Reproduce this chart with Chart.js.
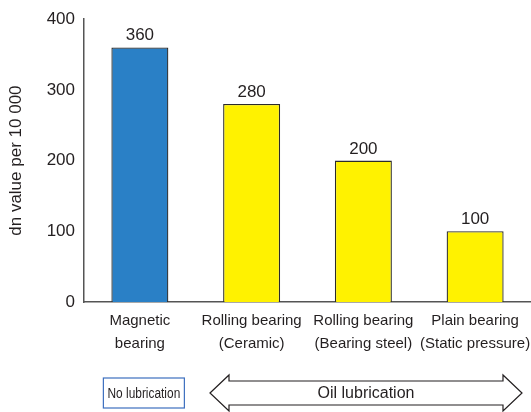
<!DOCTYPE html>
<html>
<head>
<meta charset="utf-8">
<script src="https://cdn.jsdelivr.net/npm/chart.js@4/dist/chart.umd.min.js"></script>
<style>
  html, body { margin: 0; padding: 0; background: #fff; }
  #wrap { width: 531px; height: 412px; position: relative; }
</style>
</head>
<body>
<div id="wrap"><canvas id="c" width="531" height="412"></canvas></div>
<script>
// Bearing types and their dn limits (dn value per 10 000)
const categories = [
  ['Magnetic', 'bearing'],
  ['Rolling bearing', '(Ceramic)'],
  ['Rolling bearing', '(Bearing steel)'],
  ['Plain bearing', '(Static pressure)']
];
const dnValues = [360, 280, 200, 100];
const barColors = ['#2a80c6', '#fff200', '#fff200', '#fff200'];
const yTicks = [0, 100, 200, 300, 400];
const noLubText = 'No lubrication';
const oilLubText = 'Oil lubrication';

const FONT = '"Liberation Sans", Arial, Helvetica, sans-serif';
const TEXT = '#231f20';

// Value labels above each bar
const valueLabels = {
  id: 'valueLabels',
  afterDatasetsDraw(chart) {
    const ctx = chart.ctx;
    const meta = chart.getDatasetMeta(0);
    ctx.save();
    ctx.font = '17px ' + FONT;
    ctx.fillStyle = TEXT;
    ctx.textAlign = 'center';
    ctx.textBaseline = 'alphabetic';
    meta.data.forEach((bar, i) => {
      ctx.fillText(String(chart.data.datasets[0].data[i]), bar.x, bar.y - 7);
    });
    ctx.restore();
  }
};

// Lubrication notes under the category labels
const lubricationNotes = {
  id: 'lubricationNotes',
  afterDraw(chart) {
    const ctx = chart.ctx;
    const x = chart.scales.x;
    const cy = 393;
    ctx.save();

    // boxed "No lubrication" under the first category
    const bx = x.getPixelForValue(0) + 4;
    const bw = 81, bh = 30;
    ctx.strokeStyle = '#3d6fbf';
    ctx.lineWidth = 1.2;
    ctx.strokeRect(bx - bw / 2, cy - bh / 2, bw, bh);
    ctx.fillStyle = TEXT;
    ctx.textAlign = 'center';
    ctx.textBaseline = 'middle';
    ctx.font = '14px "Liberation Sans Narrow", ' + FONT;
    ctx.save();
    ctx.translate(bx, cy);
    ctx.scale(0.85, 1);
    ctx.fillText(noLubText, 0, 1);
    ctx.restore();

    // double-headed arrow spanning the oil-lubricated bearings
    const left = 210, right = 522, head = 19, shaft = 12, wing = 18;
    ctx.beginPath();
    ctx.moveTo(left, cy);
    ctx.lineTo(left + head, cy - wing);
    ctx.lineTo(left + head, cy - shaft);
    ctx.lineTo(right - head, cy - shaft);
    ctx.lineTo(right - head, cy - wing);
    ctx.lineTo(right, cy);
    ctx.lineTo(right - head, cy + wing);
    ctx.lineTo(right - head, cy + shaft);
    ctx.lineTo(left + head, cy + shaft);
    ctx.lineTo(left + head, cy + wing);
    ctx.closePath();
    ctx.fillStyle = '#fff';
    ctx.fill();
    ctx.strokeStyle = '#231f20';
    ctx.lineWidth = 1.2;
    ctx.stroke();

    ctx.fillStyle = TEXT;
    ctx.font = '16px ' + FONT;
    ctx.fillText(oilLubText, (left + right) / 2, cy + 1);
    ctx.restore();
  }
};

new Chart(document.getElementById('c'), {
  type: 'bar',
  data: {
    labels: categories,
    datasets: [{
      data: dnValues,
      backgroundColor: barColors,
      borderColor: '#2b2b2b',
      borderWidth: 1.3,
      borderSkipped: 'bottom',
      barPercentage: 0.51,
      categoryPercentage: 1
    }]
  },
  options: {
    responsive: false,
    animation: false,
    devicePixelRatio: 1,
    layout: { padding: { top: 18, right: 0, bottom: 0, left: 0 } },
    plugins: {
      legend: { display: false },
      tooltip: { enabled: false }
    },
    scales: {
      x: {
        grid: { display: false, drawTicks: false },
        border: { display: true, color: '#555', width: 1.5 },
        ticks: {
          color: TEXT,
          font: { family: FONT, size: 15, lineHeight: 1.5 },
          padding: 8,
          maxRotation: 0,
          autoSkip: false
        },
        afterFit(scale) {
          scale.height = 110;
          scale.paddingLeft = 0;
          scale.paddingRight = 0;
        }
      },
      y: {
        min: 0,
        max: 400,
        grid: { display: false, drawTicks: false },
        border: { display: true, color: '#555', width: 1.5 },
        afterBuildTicks(scale) { scale.ticks = yTicks.map(v => ({ value: v })); },
        ticks: {
          color: TEXT,
          font: { family: FONT, size: 17 },
          padding: 9
        },
        title: {
          display: true,
          text: 'dn value per 10 000',
          color: TEXT,
          font: { family: FONT, size: 17 },
          padding: { top: 6, bottom: 0 }
        },
        afterFit(scale) { scale.width = 84; }
      }
    }
  },
  plugins: [valueLabels, lubricationNotes]
});
</script>
</body>
</html>
